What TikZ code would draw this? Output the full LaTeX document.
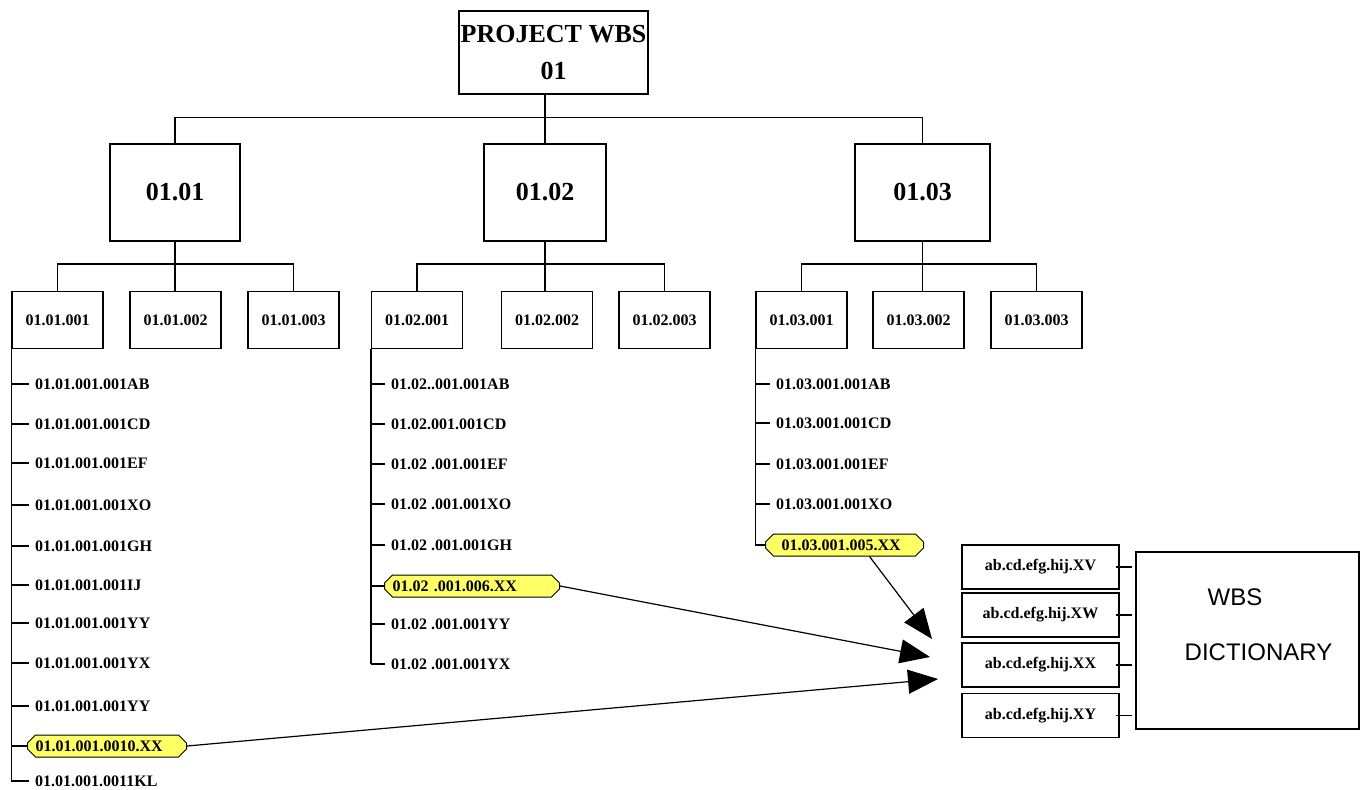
\documentclass[tikz,border=0pt]{standalone}
\usepackage{fontspec}
\setmainfont{Liberation Serif}
\newfontfamily\dictfont{Liberation Sans}
\usetikzlibrary{arrows.meta}
\usetikzlibrary{shapes.misc}
\definecolor{HiYellow}{RGB}{255,255,102}
\tikzstyle{WbsNode}=[rectangle, draw=black, line width=1.2pt, inner sep=0pt, font=\bfseries\fontsize{26}{37}\selectfont]
\tikzstyle{TopNode}=[WbsNode, minimum width=189pt, minimum height=83pt, align=center]
\tikzstyle{PhaseNode}=[WbsNode, minimum height=97pt]
\tikzstyle{PkgNode}=[WbsNode, minimum width=91pt, minimum height=57pt, font=\bfseries\fontsize{16}{18}\selectfont]
\tikzstyle{DictNode}=[PkgNode, minimum width=157pt, minimum height=44pt]
\tikzstyle{BigNode}=[WbsNode, minimum width=223pt, minimum height=177pt]
\tikzstyle{DictText}=[inner sep=0pt, font=\dictfont\fontsize{24}{28}\selectfont]
\tikzstyle{ItemNode}=[anchor=west, inner xsep=6pt, inner ysep=1pt, font=\bfseries\fontsize{16}{18}\selectfont]
\tikzstyle{HiNode}=[ItemNode, chamfered rectangle, chamfered rectangle sep=4pt, draw=black, line width=1pt, fill=HiYellow, inner xsep=4pt, inner ysep=0pt, minimum height=22pt, align=left]
\tikzstyle{Link}=[line width=1.2pt]
\tikzstyle{Spine}=[line width=1.6pt]
\tikzstyle{PickEdge}=[->, line width=1.2pt]
\tikzset{>={Triangle[length=30pt,width=24pt]}}

\begin{document}
\begin{tikzpicture}[x=1pt, y=-1pt]
\useasboundingbox (0,0) rectangle (1364,789);

\node[TopNode](Top) at (553.5,52.5) {PROJECT WBS\\01};

\node[PhaseNode, minimum width=130pt](L11) at (175,192.5) {01.01};
\node[PhaseNode, minimum width=122pt](L12) at (545,192.5) {01.02};
\node[PhaseNode, minimum width=135pt](L13) at (922.5,192.5) {01.03};

\node[PkgNode](L111) at (57.5,320) {01.01.001};
\node[PkgNode](L112) at (175.5,320) {01.01.002};
\node[PkgNode](L113) at (293.5,320) {01.01.003};
\node[PkgNode](L121) at (417,320) {01.02.001};
\node[PkgNode](L122) at (547,320) {01.02.002};
\node[PkgNode](L123) at (664.5,320) {01.02.003};
\node[PkgNode](L131) at (801.5,320) {01.03.001};
\node[PkgNode](L132) at (918.5,320) {01.03.002};
\node[PkgNode](L133) at (1036.5,320) {01.03.003};

% tree links
\draw[Link](L12.north) -- (L12.north |- Top.south);
\draw[Link](L11.north) -- ++(0,-26) -| (L13.north);
\draw[Link](L11.south) -- (L11.south |- L112.north);
\draw[Link](L12.south) -- (L12.south |- L122.north);
\draw[Link](L13.south) -- (L13.south |- L132.north);
\draw[Link](L111.north) -- ++(0,-27) -| (L113.north);
\draw[Link](L121.north) -- ++(0,-27) -| (L123.north);
\draw[Link](L131.north) -- ++(0,-27) -| (L133.north);

% 01.01.001 items
\node[ItemNode](A1) at (29,384) {01.01.001.001AB};
\node[ItemNode](A2) at (29,424) {01.01.001.001CD};
\node[ItemNode](A3) at (29,463) {01.01.001.001EF};
\node[ItemNode](A4) at (29,505) {01.01.001.001XO};
\node[ItemNode](A5) at (29,546) {01.01.001.001GH};
\node[ItemNode](A6) at (29,585) {01.01.001.001IJ};
\node[ItemNode](A7) at (29,623) {01.01.001.001YY};
\node[ItemNode](A8) at (29,663) {01.01.001.001YX};
\node[ItemNode](A9) at (29,706) {01.01.001.001YY};
\node[HiNode, text width=143pt](H1) at (27,746) {01.01.001.0010.XX};
\node[ItemNode](A11) at (29,781) {01.01.001.0011KL};

% 01.02.001 items
\node[ItemNode](B1) at (385,384) {01.02..001.001AB};
\node[ItemNode](B2) at (385,424) {01.02.001.001CD};
\node[ItemNode](B3) at (385,464) {01.02 .001.001EF};
\node[ItemNode](B4) at (385,504) {01.02 .001.001XO};
\node[ItemNode](B5) at (385,545) {01.02 .001.001GH};
\node[HiNode, text width=159pt](H2) at (384,586) {01.02 .001.006.XX};
\node[ItemNode](B7) at (385,624) {01.02 .001.001YY};
\node[ItemNode](B8) at (385,664) {01.02 .001.001YX};

% 01.03.001 items
\node[ItemNode](C1) at (770,384) {01.03.001.001AB};
\node[ItemNode](C2) at (770,423) {01.03.001.001CD};
\node[ItemNode](C3) at (770,464) {01.03.001.001EF};
\node[ItemNode](C4) at (770,504) {01.03.001.001XO};
\node[HiNode, text width=142pt](H3) at (765,545) {\hspace*{8pt}01.03.001.005.XX};

% spines and ticks
\draw[Spine](L111.south west) -- (L111.south west |- A11.west);
\foreach \n in {A1,A2,A3,A4,A5,A6,A7,A8,A9,H1,A11}
  \draw[Link](L111.south west |- \n.west) -- (\n.west);
\draw[Spine](L121.south west) -- (L121.south west |- B8.west);
\foreach \n in {B1,B2,B3,B4,B5,H2,B7,B8}
  \draw[Link](L121.south west |- \n.west) -- (\n.west);
\draw[Spine](L131.south west) -- (L131.south west |- H3.west);
\foreach \n in {C1,C2,C3,C4,H3}
  \draw[Link](L131.south west |- \n.west) -- (\n.west);

% dictionary
\node[DictNode](D1) at (1040.5,567) {ab.cd.efg.hij.XV};
\node[DictNode](D2) at (1040.5,615) {ab.cd.efg.hij.XW};
\node[DictNode](D3) at (1040.5,665) {ab.cd.efg.hij.XX};
\node[DictNode](D4) at (1040.5,715.5) {ab.cd.efg.hij.XY};
\node[BigNode](Dict) at (1247.5,640.5) {};
\node[DictText](WbsWord) at (1235,597.5) {WBS};
\node[DictText](DictWord) at (1258.5,652.5) {DICTIONARY};
\foreach \n in {D1,D2,D3,D4}
  \draw[Link]([xshift=-4pt]\n.east) -- ++(16,0);

% picks into the dictionary
\coordinate (TipA) at (932,639);
\coordinate (TipB) at (930,657);
\coordinate (TipC) at (938,679);
\draw[PickEdge]([xshift=25pt]H3.south) -- (TipA);
\draw[PickEdge](H2.east) -- (TipB);
\draw[PickEdge](H1.east) -- (TipC);
\end{tikzpicture}
\end{document}
